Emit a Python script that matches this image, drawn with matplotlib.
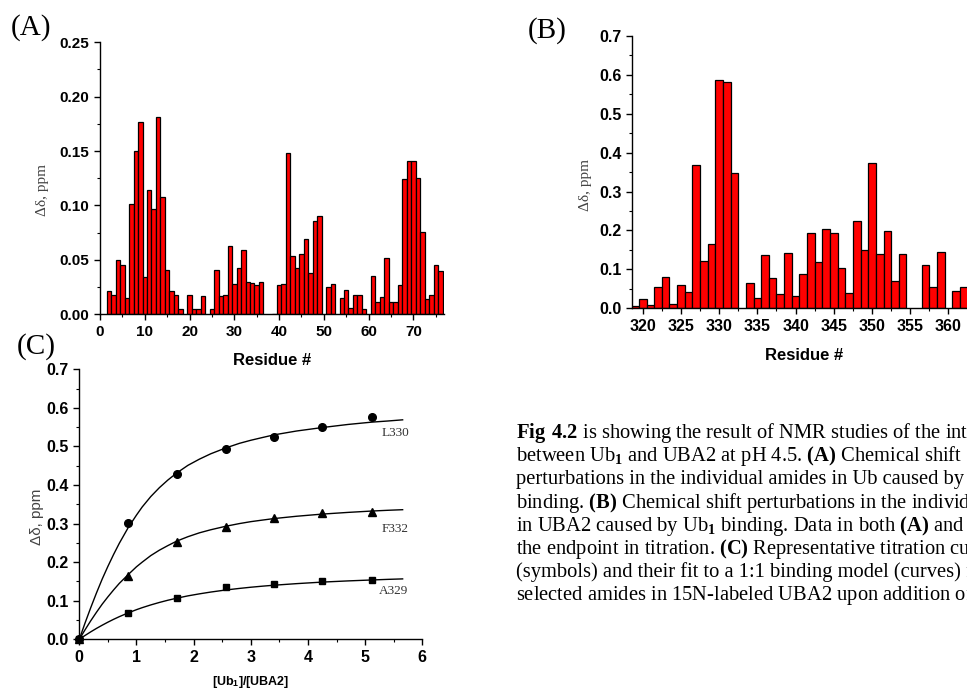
import matplotlib
matplotlib.use("Agg")
import matplotlib.pyplot as plt
from matplotlib.ticker import MultipleLocator, FormatStrFormatter

plt.rcParams['font.family'] = ['Liberation Sans', 'DejaVu Sans']
plt.rcParams['font.weight'] = 'bold'
plt.rcParams['mathtext.fontset'] = 'custom'
plt.rcParams['mathtext.rm'] = 'Liberation Serif'
plt.rcParams['mathtext.bf'] = 'Liberation Serif:bold'
plt.rcParams['mathtext.sf'] = 'Liberation Sans:bold'
plt.rcParams['mathtext.default'] = 'rm'

# (A) shift perturbations in Ub (by residue)
ub_res = [2, 3, 4, 5, 6, 7, 8, 9, 10, 11, 12, 13, 14, 15, 16, 17, 18,
          20, 21, 22, 23, 25, 26, 27, 28, 29, 30, 31, 32, 33, 34, 35, 36,
          39, 40, 41, 42, 43, 44, 45, 46, 47, 48, 49, 51, 52,
          54, 55, 56, 57, 58, 59, 61, 62, 63, 64, 65, 66, 67, 68, 69, 70,
          71, 72, 73, 74, 75, 76]
ub_shift = [0.021, 0.0175, 0.050, 0.045, 0.0147, 0.101, 0.150, 0.177, 0.034,
            0.114, 0.097, 0.181, 0.108, 0.041, 0.021, 0.0175, 0.005,
            0.018, 0.005, 0.005, 0.0165, 0.005, 0.041, 0.0165, 0.018, 0.063,
            0.028, 0.043, 0.059, 0.030, 0.029, 0.027, 0.030,
            0.0005, 0.027, 0.028, 0.148, 0.054, 0.0426, 0.055, 0.069, 0.038,
            0.086, 0.090, 0.025, 0.028,
            0.0147, 0.022, 0.006, 0.0175, 0.018, 0.005, 0.0355, 0.011, 0.016,
            0.052, 0.011, 0.011, 0.027, 0.124, 0.1406, 0.1406,
            0.1256, 0.076, 0.0138, 0.018, 0.0456, 0.040]

# (B) shift perturbations in UBA2 (by residue)
uba_res = [319, 320, 321, 322, 323, 324, 325, 326, 327, 328, 329, 330, 331, 332,
           334, 335, 336, 337, 338, 339, 340, 341, 342, 343, 344, 345, 346, 347,
           348, 349, 350, 351, 352, 353, 354, 357, 358, 359, 361, 362]
uba_shift = [0.006, 0.025, 0.0086, 0.0557, 0.080, 0.011, 0.060, 0.041, 0.368,
             0.1217, 0.166, 0.587, 0.582, 0.348,
             0.065, 0.026, 0.138, 0.079, 0.036, 0.142, 0.032, 0.089, 0.193,
             0.119, 0.205, 0.1945, 0.103, 0.0386,
             0.2253, 0.150, 0.3744, 0.139, 0.1996, 0.069, 0.1397, 0.1105,
             0.0548, 0.144, 0.0437, 0.054]

# (C) titration points
ratio = [0, 0.857, 1.703, 2.56, 3.405, 4.25, 5.114]
l330_pts = [0, 0.3007, 0.4287, 0.4935, 0.5237, 0.5505, 0.5773]
f332_pts = [0, 0.165, 0.252, 0.292, 0.3154, 0.3267, 0.331]
a329_pts = [0, 0.069, 0.108, 0.1365, 0.1443, 0.152, 0.1538]

# (C) fitted curves
fit_x = [0, 0.1, 0.2, 0.3, 0.4, 0.5, 0.6, 0.7, 0.857, 1.0, 1.1, 1.25, 1.4, 1.55,
         1.703, 1.9, 2.1, 2.3, 2.56, 2.8, 3.0, 3.2, 3.405, 3.8, 4.25, 4.7,
         5.114, 5.4, 5.656]
l330_fit = [0, 0.042, 0.082, 0.120, 0.156, 0.189, 0.220, 0.249, 0.290, 0.322,
            0.343, 0.370, 0.393, 0.413, 0.431, 0.451, 0.467, 0.481, 0.496,
            0.508, 0.516, 0.523, 0.530, 0.540, 0.549, 0.557, 0.563, 0.566, 0.569]
f332_fit = [0, 0.0245, 0.048, 0.070, 0.091, 0.110, 0.128, 0.145, 0.168, 0.188,
            0.200, 0.217, 0.231, 0.243, 0.2545, 0.266, 0.276, 0.284, 0.293,
            0.300, 0.305, 0.309, 0.313, 0.319, 0.3246, 0.329, 0.3325, 0.3345, 0.336]
a329_fit = [0, 0.0099, 0.0193, 0.0282, 0.0365, 0.0444, 0.0518, 0.0587, 0.0686,
            0.0768, 0.082, 0.0891, 0.0955, 0.1013, 0.1065, 0.1126, 0.1178,
            0.1225, 0.1278, 0.1319, 0.135, 0.1377, 0.1402, 0.1443, 0.1483,
            0.1514, 0.1538, 0.1554, 0.1566]

caption = [
    r"$\mathbf{Fig\ 4.2}$ is showing the result of NMR studies of the interaction",
    r"between Ub$_1$ and UBA2 at pH 4.5. $\mathbf{(A)}$ Chemical shift",
    r"perturbations in the individual amides in Ub caused by UBA2",
    r"binding. $\mathbf{(B)}$ Chemical shift perturbations in the individual",
    r"in UBA2 caused by Ub$_1$ binding. Data in both $\mathbf{(A)}$ and $\mathbf{(B)}$",
    r"the endpoint in titration. $\mathbf{(C)}$ Representative titration curves",
    r"(symbols) and their fit to a 1:1 binding model (curves) for",
    r"selected amides in 15N-labeled UBA2 upon addition of Ub$_1$",
]

W, H = 967, 690
fig = plt.figure(figsize=(W / 100, H / 100), dpi=100)


def px_axes(left, top, right, bottom):
    return fig.add_axes([left / W, 1 - bottom / H, (right - left) / W, (bottom - top) / H])


def style(ax, size):
    for s in ['top', 'right']:
        ax.spines[s].set_visible(False)
    for s in ['left', 'bottom']:
        ax.spines[s].set_linewidth(1.0)
    ax.tick_params(which='major', direction='out', length=4, width=1, labelsize=size)
    ax.tick_params(which='minor', direction='out', length=2.5, width=0.8)
    for t in ax.get_xticklabels() + ax.get_yticklabels():
        t.set_fontweight('bold')
        t.set_family('Liberation Sans')


def ylab(ax, x, y, serif=True):
    if serif:
        ax.set_ylabel("Δδ, ppm", family='Liberation Serif', fontweight='normal',
                      fontsize=11, color='#444444')
    else:
        ax.set_ylabel("Δδ, ppm", family='Liberation Sans', fontweight='normal',
                      fontsize=11, color='#444444')
    ax.yaxis.set_label_coords(x, y)
    ax.yaxis.label.set_va('center')


def xlab(ax, text, size, y):
    ax.set_xlabel(text, family='Liberation Sans', fontweight='bold', fontsize=size)
    ax.xaxis.set_label_coords(0.5, y)
    ax.xaxis.label.set_va('baseline')


# ---- (A)
axA = px_axes(100, 42.3, 444.3, 314.3)
axA.bar(ub_res, ub_shift, width=1.0, color='#ff0000', edgecolor='black', linewidth=0.9)
axA.set_xlim(0, 76.9)
axA.set_ylim(0, 0.25)
axA.xaxis.set_major_locator(MultipleLocator(10))
axA.xaxis.set_minor_locator(MultipleLocator(5))
axA.yaxis.set_major_locator(MultipleLocator(0.05))
axA.yaxis.set_minor_locator(MultipleLocator(0.025))
axA.yaxis.set_major_formatter(FormatStrFormatter('%.2f'))
style(axA, 11)
xlab(axA, "Residue #", 12, -0.186)
ylab(axA, -0.166, 0.457)

# ---- (B)
axB = px_axes(632.3, 36, 976, 308.3)
axB.bar(uba_res, uba_shift, width=1.0, color='#ff0000', edgecolor='black', linewidth=0.9)
axB.set_xlim(318.64, 363.6)
axB.set_ylim(0, 0.7)
axB.xaxis.set_major_locator(MultipleLocator(5))
axB.xaxis.set_minor_locator(MultipleLocator(2.5))
axB.yaxis.set_major_locator(MultipleLocator(0.1))
axB.yaxis.set_minor_locator(MultipleLocator(0.05))
axB.yaxis.set_major_formatter(FormatStrFormatter('%.1f'))
style(axB, 11.5)
xlab(axB, "Residue #", 12, -0.19)
ylab(axB, -0.135, 0.453)

# ---- (C)
axC = px_axes(79.3, 369.3, 422.3, 639.3)
for fy in [l330_fit, f332_fit, a329_fit]:
    axC.plot(fit_x, fy, color='black', linewidth=1.0)
axC.plot(ratio, l330_pts, 'o', color='black', markersize=5.5, clip_on=False)
axC.plot(ratio, f332_pts, '^', color='black', markersize=6, clip_on=False)
axC.plot(ratio, a329_pts, 's', color='black', markersize=5, clip_on=False)
axC.set_xlim(0, 6)
axC.set_ylim(0, 0.7)
axC.xaxis.set_major_locator(MultipleLocator(1))
axC.xaxis.set_minor_locator(MultipleLocator(0.5))
axC.yaxis.set_major_locator(MultipleLocator(0.1))
axC.yaxis.set_minor_locator(MultipleLocator(0.05))
axC.yaxis.set_major_formatter(FormatStrFormatter('%.1f'))
style(axC, 11.5)
xlab(axC, r"[Ub$_\mathsf{1}$]/[UBA2]", 9, -0.169)
ylab(axC, -0.123, 0.453, serif=False)
for name, x, y in [("L330", 5.29, 0.536), ("F332", 5.29, 0.287), ("A329", 5.24, 0.125)]:
    axC.text(x, y, name, family='Liberation Serif', fontweight='normal', fontsize=9.5,
             color='#333333', va='center', ha='left')

# panel letters
for lbl, x, y in [("(A)", 31, 28), ("(B)", 547, 31), ("(C)", 36, 347)]:
    fig.text(x / W, 1 - y / H, lbl, family='Liberation Serif', fontweight='normal',
             fontsize=21, ha='center', va='center')

# caption
for i, line in enumerate(caption):
    fig.text(516 / W, 1 - (438 + i * 23.2) / H, line, family='Liberation Serif',
             fontweight='normal', fontsize=14.8, ha='left', va='baseline')

fig.savefig("out.png", dpi=100)
